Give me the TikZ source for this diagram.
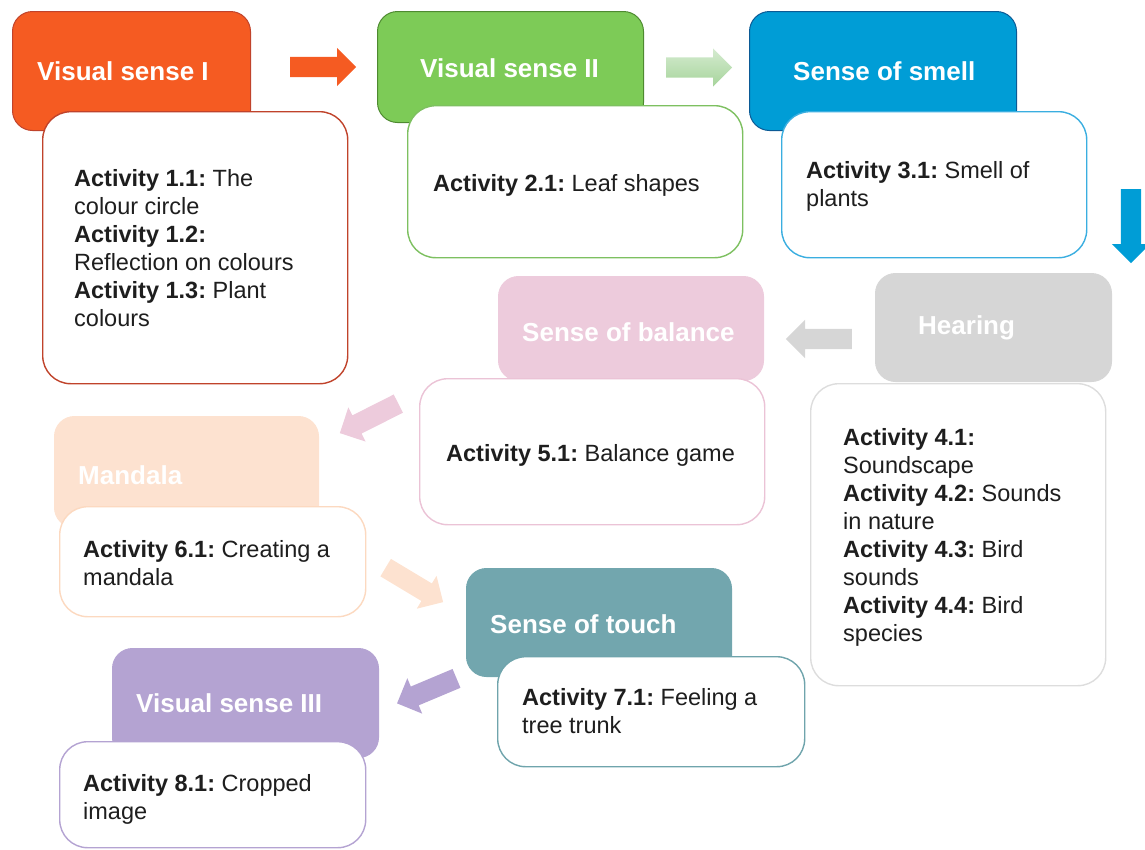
\documentclass[tikz,border=0pt]{standalone}
\usepackage{fontspec}
\setmainfont{Liberation Sans}
\frenchspacing
\usetikzlibrary{shapes.arrows}
\definecolor{cOrange}{HTML}{F55B22}
\definecolor{cOrangeB}{HTML}{C0432B}
\definecolor{cGreen}{HTML}{7DCB57}
\definecolor{cGreenB}{HTML}{4E8A30}
\definecolor{cGreenL}{HTML}{7DC060}
\definecolor{cArrG1}{HTML}{D5EBD0}
\definecolor{cArrG2}{HTML}{A6D49B}
\definecolor{cBlue}{HTML}{009DD6}
\definecolor{cBlueB}{HTML}{0B5A95}
\definecolor{cBlueL}{HTML}{3AAEE0}
\definecolor{cGrey}{HTML}{D6D6D6}
\definecolor{cGreyL}{HTML}{DDDDDD}
\definecolor{cPink}{HTML}{EDCBDC}
\definecolor{cPinkL}{HTML}{EBC3D6}
\definecolor{cPeach}{HTML}{FDE2D0}
\definecolor{cPeachL}{HTML}{FCD9C0}
\definecolor{cTeal}{HTML}{72A6AE}
\definecolor{cTealL}{HTML}{6FA4AC}
\definecolor{cPurple}{HTML}{B4A3D2}
\definecolor{cText}{HTML}{1E1E1E}
\begin{document}
\begin{tikzpicture}[x=1pt,y=-1pt,
  hdr/.style={rounded corners=20pt, inner sep=0pt, anchor=north west, line width=1pt},
  bodybox/.style={fill=white, rounded corners=28pt, line width=1.4pt, inner sep=0pt, anchor=north west},
  htext/.style={anchor=west, inner sep=0pt, text=white, font=\fontsize{26}{31}\selectfont\bfseries},
  btext/.style={anchor=north west, inner sep=0pt, align=left, text=cText, font=\fontsize{23.5}{28}\selectfont},
  barrow/.style={single arrow, single arrow head extend=9pt, inner xsep=0pt, inner ysep=10pt, minimum height=66pt, minimum width=38pt, draw=none, anchor=tail}
]
\useasboundingbox (0,0) rectangle (1145,849);

% headers
\node[hdr, fill=cOrange, draw=cOrangeB, minimum width=238pt, minimum height=119pt] (h1) at (12,11) {};
\node[hdr, fill=cGreen, draw=cGreenB, minimum width=266pt, minimum height=111pt] (h2) at (377,11) {};
\node[hdr, fill=cBlue, draw=cBlueB, minimum width=267pt, minimum height=119pt] (h3) at (749,11) {};
\node[hdr, fill=cGrey, draw=cGrey, minimum width=236pt, minimum height=108pt] (h4) at (875,273) {};
\node[hdr, fill=cPink, draw=cPink, minimum width=265pt, minimum height=104pt] (h5) at (498,276) {};
\node[hdr, fill=cPeach, draw=cPeach, minimum width=264pt, minimum height=111pt] (h6) at (54,416) {};
\node[hdr, fill=cTeal, draw=cTeal, minimum width=265pt, minimum height=108pt] (h7) at (466,568) {};
\node[hdr, fill=cPurple, draw=cPurple, minimum width=266pt, minimum height=109pt] (h8) at (112,648) {};

\node[htext] (t1) at (37,71) {Visual sense I};
\node[htext] (t2) at (420,68) {Visual sense II};
\node[htext] (t3) at (793,71) {Sense of smell};
\node[htext] (t4) at (918,328) {Hearing};
\node[htext] (t5) at (522,332) {Sense of balance};
\node[htext] (t6) at (78,475) {Mandala};
\node[htext] (t7) at (490,624) {Sense of touch};
\node[htext] (t8) at (136,703) {Visual sense III};

% bodies
\node[bodybox, draw=cOrangeB, minimum width=305pt, minimum height=272pt] (b1) at (42,111) {};
\node[bodybox, draw=cGreenL, minimum width=335pt, minimum height=152pt] (b2) at (407,105) {};
\node[bodybox, draw=cBlueL, minimum width=305pt, minimum height=146pt] (b3) at (781,111) {};
\node[bodybox, draw=cGreyL, minimum width=295pt, minimum height=302pt] (b4) at (810,383) {};
\node[bodybox, draw=cPinkL, minimum width=345pt, minimum height=146pt] (b5) at (419,378) {};
\node[bodybox, draw=cPeachL, minimum width=306pt, minimum height=110pt] (b6) at (59,506) {};
\node[bodybox, draw=cTealL, minimum width=307pt, minimum height=110pt] (b7) at (497,656) {};
\node[bodybox, draw=cPurple, minimum width=306pt, minimum height=106pt] (b8) at (59,741) {};

\node[btext] (x1) at (74,169.5) {\textbf{Activity 1.1:} The\\colour circle\\\textbf{Activity 1.2:}\\Reflection on colours\\\textbf{Activity 1.3:} Plant\\colours};
\node[btext] (x2) at (433,174.5) {\textbf{Activity 2.1:} Leaf shapes};
\node[btext] (x3) at (806,161.5) {\textbf{Activity 3.1:} Smell of\\plants};
\node[btext] (x4) at (843,428.5) {\textbf{Activity 4.1:}\\Soundscape\\\textbf{Activity 4.2:} Sounds\\in nature\\\textbf{Activity 4.3:} Bird\\sounds\\\textbf{Activity 4.4:} Bird\\species};
\node[btext] (x5) at (446,444.5) {\textbf{Activity 5.1:} Balance game};
\node[btext] (x6) at (83,540.5) {\textbf{Activity 6.1:} Creating a\\mandala};
\node[btext] (x7) at (522,688.5) {\textbf{Activity 7.1:} Feeling a\\tree trunk};
\node[btext] (x8) at (83,774.5) {\textbf{Activity 8.1:} Cropped\\image};

% block arrows
\node[barrow, fill=cOrange] (a1) at (290,67) {};
\node[barrow, top color=cArrG1, bottom color=cArrG2] (a2) at (666,67.5) {};
\node[barrow, fill=cBlue, rotate=-90, minimum height=74pt, minimum width=37pt] (a3) at (1131,189) {};
\node[barrow, fill=cGrey, rotate=180] (a4) at (852,339) {};
\node[barrow, fill=cPink, rotate=206.8, minimum height=65.5pt] (a5) at (398.5,403.5) {};
\node[barrow, fill=cPeach, rotate=-31, minimum height=67pt] (a6) at (385.5,567.5) {};
\node[barrow, fill=cPurple, rotate=202.8, minimum height=64.5pt] (a7) at (456.7,678.3) {};
\end{tikzpicture}
\end{document}
